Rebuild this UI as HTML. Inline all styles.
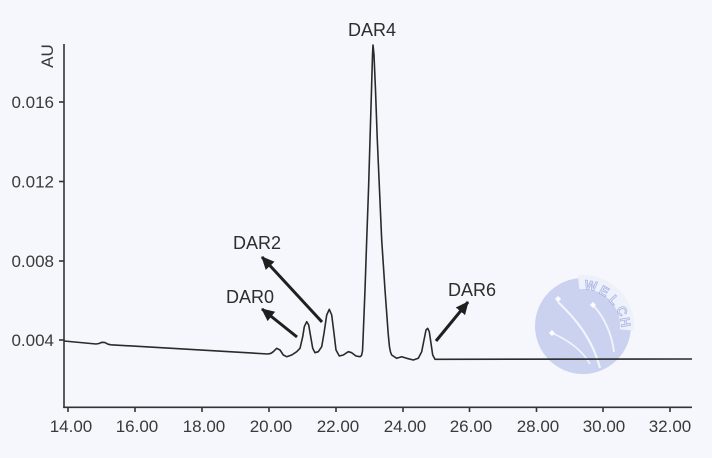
<!DOCTYPE html>
<html>
<head>
<meta charset="utf-8">
<style>
  html,body{margin:0;padding:0;background:#f6f7fc;}
  svg{display:block;}
  text{font-family:"Liberation Sans",sans-serif;}
</style>
</head>
<body>
<svg width="712" height="458" viewBox="0 0 712 458" xmlns="http://www.w3.org/2000/svg">
  <rect width="712" height="458" fill="#f6f7fc"/>
  <defs>
    <marker id="ah" markerUnits="userSpaceOnUse" markerWidth="14" markerHeight="14" viewBox="0 0 14 14" refX="12" refY="7" orient="auto">
      <path d="M0,1 L13,7 L0,13 Z" fill="#1f1f1f"/>
    </marker>
  </defs>

  <!-- watermark -->
  <g>
    <circle cx="583" cy="326" r="48" fill="#cad2f0"/>
    <!-- cut band for lettering -->
    <path d="M 578.6,282.2 A 44 44 0 0 1 627,330" stroke="#eef1fa" stroke-width="14" fill="none"/>
    <path d="M558,302 C575,318 592,338 600,368" stroke="#f2f4fc" stroke-width="2.2" fill="none"/>
    <path d="M593,305 C605,318 612,335 614,352" stroke="#f2f4fc" stroke-width="1.8" fill="none"/>
    <path d="M552,333 C568,340 582,350 590,364" stroke="#f2f4fc" stroke-width="1.6" fill="none"/>
    <path d="M555,299 L558,296 L561,299 L558,302 Z" fill="#ffffff"/>
    <path d="M590,305 L593,302 L596,305 L593,308 Z" fill="#ffffff"/>
    <path d="M549,333 L552,330 L555,333 L552,336 Z" fill="#ffffff"/>
    <g font-size="13" font-weight="bold" fill="#e8ecf9" stroke="#a9b5e3" stroke-width="0.8" text-anchor="middle">
      <text transform="translate(590,290) rotate(10)">W</text>
      <text transform="translate(602,295) rotate(29)">E</text>
      <text transform="translate(611,303) rotate(47)">L</text>
      <text transform="translate(618,313) rotate(65)">C</text>
      <text transform="translate(621,323) rotate(80)">H</text>
    </g>
  </g>

  <!-- axes -->
  <g stroke="#333" stroke-width="1.6" fill="none">
    <line x1="64" y1="44" x2="64" y2="408"/>
    <line x1="63.2" y1="407.3" x2="692" y2="407.3"/>
    <line x1="59" y1="102" x2="64" y2="102"/>
    <line x1="59" y1="181.5" x2="64" y2="181.5"/>
    <line x1="59" y1="261" x2="64" y2="261"/>
    <line x1="59" y1="340" x2="64" y2="340"/>
    <line x1="68" y1="407" x2="68" y2="412"/>
    <line x1="135" y1="407" x2="135" y2="412"/>
    <line x1="202" y1="407" x2="202" y2="412"/>
    <line x1="269" y1="407" x2="269" y2="412"/>
    <line x1="336" y1="407" x2="336" y2="412"/>
    <line x1="403" y1="407" x2="403" y2="412"/>
    <line x1="469.5" y1="407" x2="469.5" y2="412"/>
    <line x1="536.5" y1="407" x2="536.5" y2="412"/>
    <line x1="603" y1="407" x2="603" y2="412"/>
    <line x1="670" y1="407" x2="670" y2="412"/>
  </g>

  <!-- y labels -->
  <g font-size="17" fill="#3a3a3a" text-anchor="end">
    <text x="54" y="108">0.016</text>
    <text x="54" y="187.5">0.012</text>
    <text x="54" y="267">0.008</text>
    <text x="54" y="346">0.004</text>
  </g>
  <text transform="translate(53,56) rotate(-90)" font-size="17" fill="#3a3a3a" text-anchor="middle">AU</text>

  <!-- x labels -->
  <g font-size="17" fill="#3a3a3a" text-anchor="middle">
    <text x="71" y="432">14.00</text>
    <text x="137" y="432">16.00</text>
    <text x="204" y="432">18.00</text>
    <text x="271" y="432">20.00</text>
    <text x="338" y="432">22.00</text>
    <text x="405" y="432">24.00</text>
    <text x="471" y="432">26.00</text>
    <text x="538" y="432">28.00</text>
    <text x="604" y="432">30.00</text>
    <text x="670" y="432">32.00</text>
  </g>

  <!-- chromatogram -->
  <path fill="none" stroke="#2a2a2a" stroke-width="1.6" stroke-linejoin="round"
    d="M64,341 L96,344 L99,343.5 L102,342.3 L105,342.6 L108,344.2 L111,344.8 L268,354
       L271,353.3 L273.3,351.7 L276.7,348.3 L280,350 L283.3,355 L286.7,356.7 L291.7,355 L296.7,351.7 L300,348.3
       L302.7,336.7 L304.3,326.7 L306.7,321.7 L308.7,325 L310.7,336.7 L312.7,348.3 L315,352.7 L318.3,351.7
       L321.7,346.7 L324,333.3 L326.7,315 L329.3,309.3 L331.7,315 L334,333.3 L336,350 L339.3,356
       L343.3,355 L348.3,351.7 L351.7,352.7 L356,356 L360,356.7 L361.5,355.5 L362.5,351 L363,340
       L365,290 L366.7,240 L368.5,190 L370,140 L371.5,90 L372.5,55 L373,45 L374,55 L375.5,90 L377.3,140
       L379.5,190 L381.7,240 L385,290 L388.3,335 L389.5,347 L390.5,352 L391.7,355 L396.7,358.3 L401.7,356.7
       L406.7,358.3 L413.3,360 L418.3,358.3 L421.7,351.7 L424,340 L426,330 L427.7,328.3 L429.3,331.7
       L431,343.3 L432.7,355 L435,359.3 L692,359"/>

  <!-- arrows -->
  <g stroke="#1f1f1f" stroke-width="3" fill="none">
    <line x1="297" y1="337" x2="262" y2="309" marker-end="url(#ah)"/>
    <line x1="322" y1="322" x2="262" y2="257" marker-end="url(#ah)"/>
    <line x1="436" y1="341" x2="468" y2="302" marker-end="url(#ah)"/>
  </g>

  <!-- peak labels -->
  <g font-size="18" fill="#2e2e2e">
    <text x="348" y="36">DAR4</text>
    <text x="233" y="249">DAR2</text>
    <text x="226" y="303">DAR0</text>
    <text x="448" y="296">DAR6</text>
  </g>
</svg>
</body>
</html>
